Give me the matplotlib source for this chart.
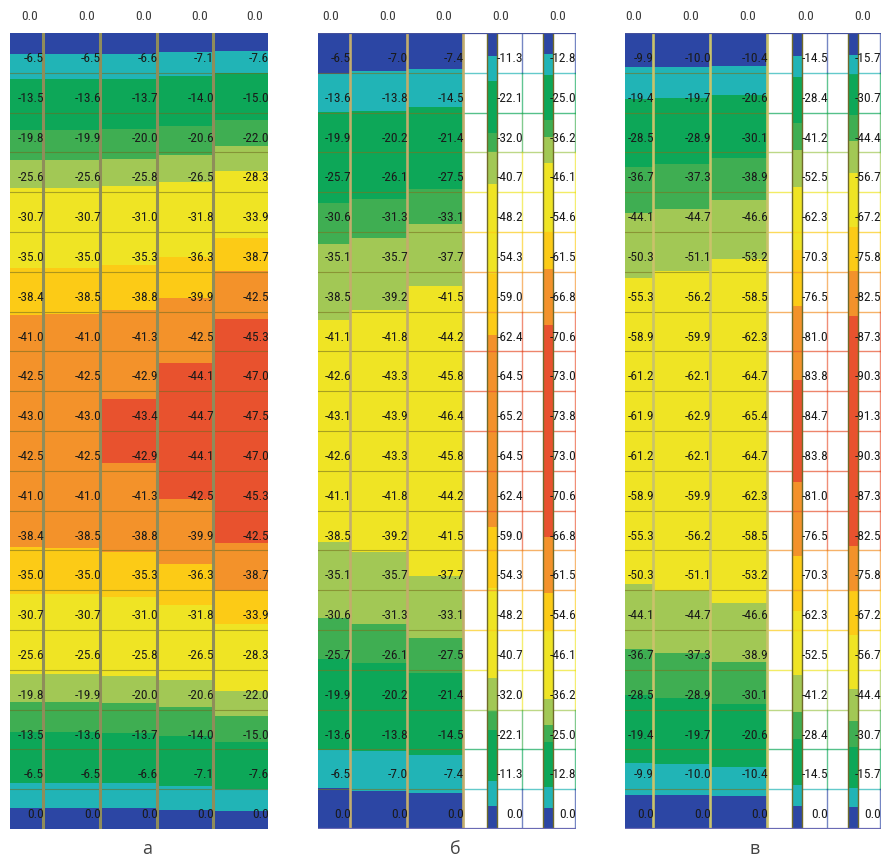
import numpy as np
import matplotlib
matplotlib.use("Agg")
import matplotlib.pyplot as plt
from matplotlib.colors import ListedColormap, BoundaryNorm

# ---------------- data (node values, top to bottom) ----------------
a1 = [0.0, -6.5, -13.5, -19.8, -25.6, -30.7, -35.0, -38.4, -41.0, -42.5, -43.0, -42.5, -41.0, -38.4, -35.0, -30.7, -25.6, -19.8, -13.5, -6.5, 0.0]
a2 = [0.0, -6.5, -13.6, -19.9, -25.6, -30.7, -35.0, -38.5, -41.0, -42.5, -43.0, -42.5, -41.0, -38.5, -35.0, -30.7, -25.6, -19.9, -13.6, -6.5, 0.0]
a3 = [0.0, -6.6, -13.7, -20.0, -25.8, -31.0, -35.3, -38.8, -41.3, -42.9, -43.4, -42.9, -41.3, -38.8, -35.3, -31.0, -25.8, -20.0, -13.7, -6.6, 0.0]
a4 = [0.0, -7.1, -14.0, -20.6, -26.5, -31.8, -36.3, -39.9, -42.5, -44.1, -44.7, -44.1, -42.5, -39.9, -36.3, -31.8, -26.5, -20.6, -14.0, -7.1, 0.0]
a5 = [0.0, -7.6, -15.0, -22.0, -28.3, -33.9, -38.7, -42.5, -45.3, -47.0, -47.5, -47.0, -45.3, -42.5, -38.7, -33.9, -28.3, -22.0, -15.0, -7.6, 0.0]

b1 = [0.0, -6.5, -13.6, -19.9, -25.7, -30.6, -35.1, -38.5, -41.1, -42.6, -43.1, -42.6, -41.1, -38.5, -35.1, -30.6, -25.7, -19.9, -13.6, -6.5, 0.0]
b2 = [0.0, -7.0, -13.8, -20.2, -26.1, -31.3, -35.7, -39.2, -41.8, -43.3, -43.9, -43.3, -41.8, -39.2, -35.7, -31.3, -26.1, -20.2, -13.8, -7.0, 0.0]
b3 = [0.0, -7.4, -14.5, -21.4, -27.5, -33.1, -37.7, -41.5, -44.2, -45.8, -46.4, -45.8, -44.2, -41.5, -37.7, -33.1, -27.5, -21.4, -14.5, -7.4, 0.0]
b4 = [0.0, -11.3, -22.1, -32.0, -40.7, -48.2, -54.3, -59.0, -62.4, -64.5, -65.2, -64.5, -62.4, -59.0, -54.3, -48.2, -40.7, -32.0, -22.1, -11.3, 0.0]
b5 = [0.0, -12.8, -25.0, -36.2, -46.1, -54.6, -61.5, -66.8, -70.6, -73.0, -73.8, -73.0, -70.6, -66.8, -61.5, -54.6, -46.1, -36.2, -25.0, -12.8, 0.0]

c1 = [0.0, -9.9, -19.4, -28.5, -36.7, -44.1, -50.3, -55.3, -58.9, -61.2, -61.9, -61.2, -58.9, -55.3, -50.3, -44.1, -36.7, -28.5, -19.4, -9.9, 0.0]
c2 = [0.0, -10.0, -19.7, -28.9, -37.3, -44.7, -51.1, -56.2, -59.9, -62.1, -62.9, -62.1, -59.9, -56.2, -51.1, -44.7, -37.3, -28.9, -19.7, -10.0, 0.0]
c3 = [0.0, -10.4, -20.6, -30.1, -38.9, -46.6, -53.2, -58.5, -62.3, -64.7, -65.4, -64.7, -62.3, -58.5, -53.2, -46.6, -38.9, -30.1, -20.6, -10.4, 0.0]
c4 = [0.0, -14.5, -28.4, -41.2, -52.5, -62.3, -70.3, -76.5, -81.0, -83.8, -84.7, -83.8, -81.0, -76.5, -70.3, -62.3, -52.5, -41.2, -28.4, -14.5, 0.0]
c5 = [0.0, -15.7, -30.7, -44.4, -56.7, -67.2, -75.8, -82.5, -87.3, -90.3, -91.3, -90.3, -87.3, -82.5, -75.8, -67.2, -56.7, -44.4, -30.7, -15.7, 0.0]

captions = ["а", "б", "в"]

# colour bands (magnitude thresholds) for each panel
levels_a = [0, 3.4, 7.6, 16.2, 21.0, 25.0, 34.6, 38.6, 43.0, 1000]
levels_b = [0, 6.6, 13.4, 27.0, 32.0, 39.0, 54.5, 61.0, 68.0, 1000]
levels_c = [0, 8.5, 16.0, 31.5, 40.5, 51.0, 66.0, 75.5, 83.0, 1000]
band_colors = ['#2c46a4', '#21b4b6', '#0da758', '#3fae52', '#a2c855',
               '#efe424', '#fccb16', '#f3922a', '#e8522e']
cmap = ListedColormap(band_colors)

NUMFONT = ['Roboto Condensed', 'DejaVu Sans']
NUMSIZE = 9.6

W, H = 882, 860
fig = plt.figure(figsize=(W / 100, H / 100), dpi=100)
TOP, BOT = 33, 829
NROW = len(a1) - 1
LABEL_DY = 0.36
TXT = '#1a1a1a'


def make_ax(x0, width):
    ax = fig.add_axes([x0 / W, 1 - BOT / H, width / W, (BOT - TOP) / H])
    ax.set_xlim(0, width)
    ax.set_ylim(NROW, 0)
    ax.axis('off')
    return ax


def fill_column(ax, xl, xr, vals, norm):
    yy = np.linspace(0, NROW, 801)
    ym = 0.5 * (yy[1:] + yy[:-1])
    v = np.abs(np.interp(ym, np.arange(NROW + 1), vals))
    ax.pcolormesh([xl, xr], yy, v[:, None], cmap=cmap, norm=norm,
                  shading='flat', zorder=1)


def label_column(ax, xr, vals, header_x):
    ax.text(header_x, -0.42, f"{vals[0]:.1f}", ha='center', va='center',
            family=NUMFONT, fontsize=NUMSIZE, color='#3a3a3a', clip_on=False)
    for k in range(1, NROW + 1):
        ax.text(xr, k - LABEL_DY, f"{vals[k]:.1f}", ha='right', va='center',
                family=NUMFONT, fontsize=NUMSIZE, color=TXT, zorder=5)


# ---------------- panel а ----------------
axa = make_ax(10, 258)
norm_a = BoundaryNorm(levels_a, cmap.N)
edges_a = [0, 33, 90, 147, 203, 258]
cols_a = [a1, a2, a3, a4, a5]
for i, col in enumerate(cols_a):
    fill_column(axa, edges_a[i], edges_a[i + 1], col, norm_a)
for k in range(1, NROW):
    axa.plot([0, 258], [k, k], color='#6e6a20', lw=0.8, alpha=0.55, zorder=2)
for xe in edges_a[1:-1]:
    axa.plot([xe, xe], [0, NROW], color='#8f8d5a', lw=2.2, zorder=3)
for i, col in enumerate(cols_a):
    label_column(axa, edges_a[i + 1] + 1, col, edges_a[i + 1] - 13)


def strip_panel(x0, width, edges, strip1, line1, strip2, cols, norm, vsep_color):
    ax = make_ax(x0, width)
    for i in range(3):
        fill_column(ax, edges[i], edges[i + 1], cols[i], norm)
    fill_column(ax, strip1[0], strip1[1], cols[3], norm)
    fill_column(ax, strip2[0], strip2[1], cols[4], norm)
    right = width - 1
    for k in range(1, NROW):
        ax.plot([0, edges[3]], [k, k], color='#7a7420', lw=0.8, alpha=0.6, zorder=2)
    outer = np.abs(np.array(cols[4]))
    for k in range(1, NROW):
        c = cmap(norm(outer[k]))
        ax.plot([edges[3], right], [k, k], color=c, lw=1.0, alpha=0.7, zorder=2)
    for r in range(NROW):
        c = cmap(norm(0.5 * (outer[r] + outer[r + 1])))
        for xv in (line1, right):
            ax.plot([xv, xv], [r, r + 1], color=c, lw=1.0, alpha=0.65, zorder=2)
    for xe in edges[1:]:
        ax.plot([xe, xe], [0, NROW], color=vsep_color, lw=1.9, zorder=3)
    for s in (strip1, strip2):
        for xv in s:
            ax.plot([xv, xv], [0, NROW], color='#6f6a2a', lw=1.0, zorder=3)
    ax.plot([0, right], [0, 0], color='#44509c', lw=1.6, zorder=4)
    ax.plot([0, right], [NROW, NROW], color='#6a6ab4', lw=1.6, zorder=4)
    for i in range(3):
        label_column(ax, edges[i + 1] + 1, cols[i], edges[i + 1] - 19)
    label_column(ax, line1 + 1, cols[3], strip1[1] + 4)
    label_column(ax, right + 1, cols[4], strip2[1] + 5)
    return ax


norm_b = BoundaryNorm(levels_b, cmap.N)
axb = strip_panel(318, 258, [0, 32, 89, 145], (169, 179), 204, (225, 235),
                  [b1, b2, b3, b4, b5], norm_b, '#c2ad6c')

norm_c = BoundaryNorm(levels_c, cmap.N)
axc = strip_panel(625, 256, [0, 28, 85, 142], (167, 177), 202, (223, 233),
                  [c1, c2, c3, c4, c5], norm_c, '#c9c36a')

for xc, cap in zip([147, 455, 755], captions):
    fig.text(xc / W, 1 - 849 / H, cap, ha='center', va='center',
             family=['Open Sans', 'DejaVu Sans'], fontsize=13, color='#444444')

fig.savefig("out.png", dpi=100, facecolor='white')
